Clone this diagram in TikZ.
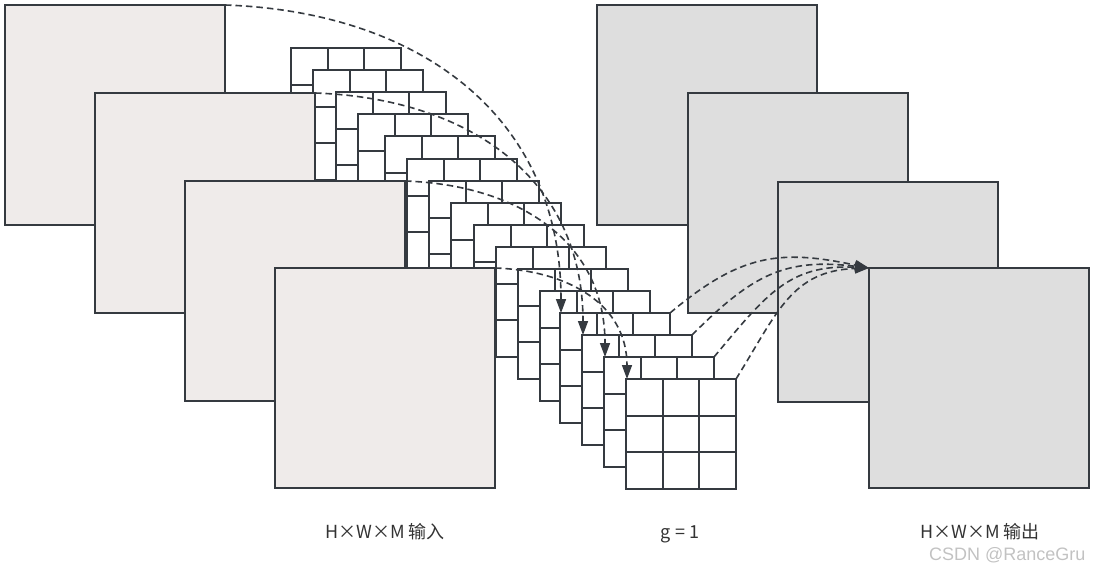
\documentclass[tikz,border=0pt]{standalone}
\usepackage{fontspec}
\setmainfont{Noto Sans CJK SC}
\newfontfamily\markfont{Liberation Sans}
\usetikzlibrary{calc,arrows.meta}

\definecolor{edgec}{HTML}{353A40}
\definecolor{infill}{HTML}{EFEBEA}
\definecolor{outfill}{HTML}{DEDEDE}
\definecolor{txtc}{HTML}{333333}
\definecolor{markc}{HTML}{C2C2C2}

\tikzset{
  plane/.style={draw=edgec, line width=1.9pt, minimum size=220pt, inner sep=0pt, outer sep=0pt, anchor=north west},
  inplane/.style={plane, fill=infill},
  outplane/.style={plane, fill=outfill},
  kernel/.style={draw=edgec, fill=white, line width=1.9pt, minimum size=110pt, inner sep=0pt, outer sep=0pt, anchor=north west},
  cell/.style={draw=edgec, line width=1.7pt},
  link/.style={draw=edgec, line width=1.6pt, dash pattern=on 6.5pt off 4pt, -{Triangle[length=14pt,width=10pt]}},
  sizelabel/.style={text=txtc, font=\fontsize{18}{20}\selectfont, anchor=base}
}

\begin{document}
\begin{tikzpicture}[x=1pt,y=-1pt]
    \useasboundingbox (0,0) rectangle (1094,572);

    % Kernels (3x3)
    \foreach \i/\x/\y in {1/291/48, 2/313/70, 3/336/92, 4/358/114,
                          5/385/136, 6/407/159, 7/429/181, 8/451/203,
                          9/474/225, 10/496/247, 11/518/269, 12/540/291,
                          13/560/313, 14/582/335, 15/604/357, 16/626/379}{
        \node[kernel] (k\i) at (\x,\y) {};
        \foreach \f in {1,2}{
            \draw[cell] ($(k\i.north west)!\f/3!(k\i.north east)$) -- ($(k\i.south west)!\f/3!(k\i.south east)$);
            \draw[cell] ($(k\i.north west)!\f/3!(k\i.south west)$) -- ($(k\i.north east)!\f/3!(k\i.south east)$);
        }
    }

    % Input channels
    \node[inplane] (in1) at (5,5) {};
    \node[inplane] (in2) at (95,93) {};
    \node[inplane] (in3) at (185,181) {};
    \node[inplane] (in4) at (275,268) {};

    % Output channels
    \node[outplane] (out1) at (597,5) {};
    \node[outplane] (out2) at (688,93) {};
    \node[outplane] (out3) at (778,182) {};
    \node[outplane] (out4) at (869,268) {};

    % Input -> kernels
    \foreach \j/\k in {1/13, 2/14, 3/15, 4/16}
        \draw[link] (in\j.north east) to[out=-2, in=90, looseness=1.1] ([xshift=1pt]k\k.north west);

    % Kernels -> output
    \foreach \k/\a/\b in {13/40/168, 14/45/173, 15/50/177, 16/58/182}
        \draw[link] (k\k.north east) to[out=\a, in=\b, looseness=1.15] (out4.north west);

    % Labels
    \node[sizelabel] (inlabel) at (385,538) {H×W×M 输入};
    \node[sizelabel] (glabel) at (680,538) {g = 1};
    \node[sizelabel] (outlabel) at (980,538) {H×W×M 输出};
    \node[anchor=base east, text=markc, font=\markfont\fontsize{18}{20}\selectfont] (mark) at (1089,560) {CSDN @RanceGru};

\end{tikzpicture}
\end{document}
